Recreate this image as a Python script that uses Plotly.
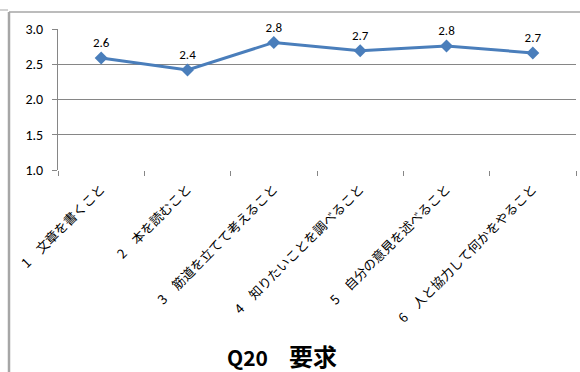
import plotly.graph_objects as go

categories = ["1　文章を書くこと", "2　本を読むこと", "3　筋道を立てて考えること",
              "4　知りたいことを調べること", "5　自分の意見を述べること", "6　人と協力して何かをやること"]
values = [2.59, 2.42, 2.81, 2.69, 2.76, 2.66]
y_ticks = [1.0, 1.5, 2.0, 2.5, 3.0]
title_q = "Q20"
title_jp = "要求"

W, H = 580, 372
ml, mr, mt, mb = 58, 4, 29, 202
pw, ph = W - ml - mr, H - mt - mb

def px(x):
    return (x - ml) / pw

def py(y):
    return (H - mb - y) / ph

fig = go.Figure()
fig.add_trace(go.Scatter(
    x=categories, y=values, mode="lines+markers+text",
    line=dict(color="#4A7EBB", width=3),
    marker=dict(symbol="diamond", size=10, color="#4A7EBB"),
    texttemplate="%{y:.1f}", textposition="top center",
    textfont=dict(family="Carlito, Liberation Sans, Arial", size=13, color="#000000"),
    cliponaxis=False, hoverinfo="skip",
))

shapes = [
    dict(type="line", xref="paper", yref="paper", x0=px(9), x1=px(9), y0=py(12), y1=py(H + 5),
         line=dict(color="#A6A6A6", width=2.5)),
    dict(type="line", xref="paper", yref="paper", x0=px(9), x1=px(W + 5), y0=py(12), y1=py(12),
         line=dict(color="#A6A6A6", width=1.5)),
    dict(type="line", xref="paper", yref="paper", x0=px(-5), x1=px(8), y0=py(10), y1=py(10),
         line=dict(color="#A6A6A6", width=1)),
]

title_html = ("<b>" + title_q + "　<span style='font-size:24px'>" + title_jp + "</span></b>")

fig.update_layout(
    width=W, height=H, margin=dict(l=ml, r=mr, t=mt, b=mb),
    paper_bgcolor="white", plot_bgcolor="white",
    showlegend=False, shapes=shapes,
    font=dict(family="Noto Sans CJK JP", color="#000000"),
    xaxis=dict(type="category", tickangle=-45, tickson="boundaries", ticks="outside",
               ticklen=5, tickcolor="#868686", showgrid=False, showline=False,
               ticklabelstandoff=8,
               tickfont=dict(family="Noto Sans CJK JP", size=13, color="#000000"),
               range=[-0.5, 5.5], fixedrange=True),
    yaxis=dict(range=[1.0, 3.0], tickvals=y_ticks, ticktext=[f"{v:.1f}" for v in y_ticks],
               ticks="outside", ticklen=5, tickcolor="#868686",
               showgrid=True, gridcolor="#868686", gridwidth=1,
               showline=True, linecolor="#868686", linewidth=1, zeroline=False,
               ticklabelstandoff=6,
               tickfont=dict(family="Carlito, Liberation Sans, Arial", size=14, color="#000000"),
               fixedrange=True),
    annotations=[dict(text=title_html, xref="paper", yref="paper",
                      x=px(282), y=py(355), xanchor="center", yanchor="middle",
                      showarrow=False,
                      font=dict(family="Noto Sans CJK JP", size=21, color="#000000"))],
)

fig.write_html("out.html")
